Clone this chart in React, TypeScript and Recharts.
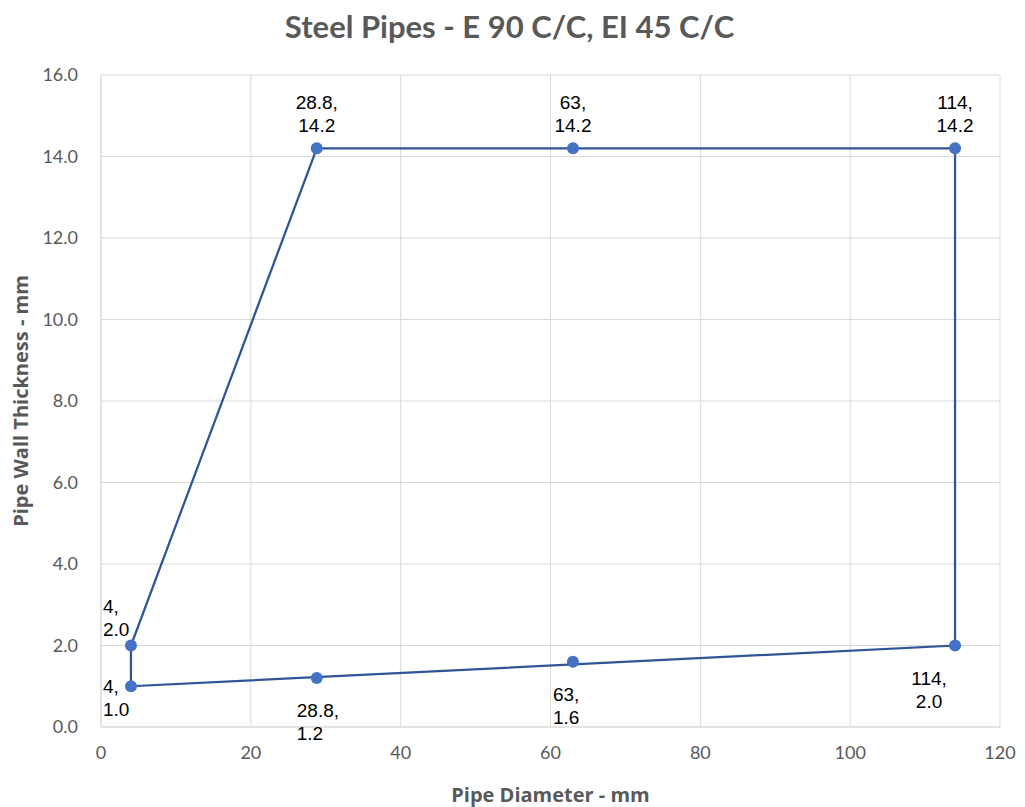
import React from 'react';
import { ScatterChart, Scatter, XAxis, YAxis, CartesianGrid, Label } from 'recharts';

// measured points with their label placement
const diameters = [4, 4, 28.8, 63, 114, 114, 63, 28.8];
const thicknesses = [1.0, 2.0, 14.2, 14.2, 14.2, 2.0, 1.6, 1.2];
const labelPlaces = ['left', 'leftAbove', 'above', 'above', 'above', 'belowCenter', 'below', 'below'];

// outline drawn through the corner points
const outlineX = [4, 4, 28.8, 63, 114, 114, 4];
const outlineY = [1.0, 2.0, 14.2, 14.2, 14.2, 2.0, 1.0];

const xTicks = [0, 20, 40, 60, 80, 100, 120];
const yTicks = [0, 2, 4, 6, 8, 10, 12, 14, 16];

const points = diameters.map((d, i) => ({ x: d, y: thicknesses[i], place: labelPlaces[i] }));
const outline = outlineX.map((d, i) => ({ x: d, y: outlineY[i] }));

const tickStyle = { fill: '#595959', fontSize: 18, fontFamily: 'Lato' };
const titleStyle = { fill: '#595959', fontSize: 20, fontWeight: 700, fontFamily: 'Open Sans' };

const PointShape = (props: any) => {
  const { cx, cy, payload } = props;
  const place = payload.place;
  const first = `${payload.x},`;
  const second = payload.y.toFixed(1);
  let tx = cx;
  let y1 = cy;
  let anchor: 'start' | 'middle' = 'start';
  if (place === 'above') {
    anchor = 'middle';
    y1 = cy - 39;
  } else if (place === 'left') {
    tx = cx - 28;
    y1 = cy + 7;
  } else if (place === 'leftAbove') {
    tx = cx - 28;
    y1 = cy - 33;
  } else if (place === 'below') {
    tx = cx - 20;
    y1 = cy + 39;
  } else if (place === 'belowCenter') {
    anchor = 'middle';
    tx = cx - 26;
    y1 = cy + 39;
  }
  return (
    <g>
      <circle cx={cx} cy={cy} r={6} fill="#4472c4" />
      <text fontFamily="Liberation Sans" fontSize={19} fill="#000" textAnchor={anchor}>
        <tspan x={tx} y={y1}>{first}</tspan>
        <tspan x={tx} y={y1 + 23}>{second}</tspan>
      </text>
    </g>
  );
};

const App: React.FC = () => {
  return (
    <div style={{ position: 'absolute', left: 0, top: 0, width: 1025, height: 807, background: '#fff' }}>
      <div
        style={{
          position: 'absolute',
          top: 7,
          left: -3,
          width: 1025,
          textAlign: 'center',
          fontFamily: 'Lato',
          fontWeight: 700,
          fontSize: 31,
          color: '#595959',
        }}
      >
        Steel Pipes - E 90 C/C, EI 45 C/C
      </div>
      <ScatterChart width={1025} height={807} margin={{ top: 75, right: 25, bottom: 0, left: 0 }}>
        <CartesianGrid stroke="#d9d9d9" />
        <XAxis
          type="number"
          dataKey="x"
          domain={[0, 120]}
          ticks={xTicks}
          height={80}
          tick={tickStyle}
          tickLine={false}
          axisLine={{ stroke: '#d9d9d9' }}
          tickMargin={13}
        >
          <Label value="Pipe Diameter - mm" position="insideBottom" offset={5} style={titleStyle} />
        </XAxis>
        <YAxis
          type="number"
          dataKey="y"
          domain={[0, 16]}
          ticks={yTicks}
          width={101}
          tick={tickStyle}
          tickLine={false}
          axisLine={{ stroke: '#d9d9d9' }}
          tickFormatter={(v: number) => v.toFixed(1)}
          tickMargin={17}
        >
          <Label
            value="Pipe Wall Thickness - mm"
            angle={-90}
            position="insideLeft"
            offset={21}
            style={{ ...titleStyle, textAnchor: 'middle' }}
          />
        </YAxis>
        <Scatter
          data={outline}
          line={{ stroke: '#2f5597', strokeWidth: 2.25 }}
          shape={() => <g />}
          isAnimationActive={false}
        />
        <Scatter data={points} shape={<PointShape />} isAnimationActive={false} />
      </ScatterChart>
    </div>
  );
};

export default App;
